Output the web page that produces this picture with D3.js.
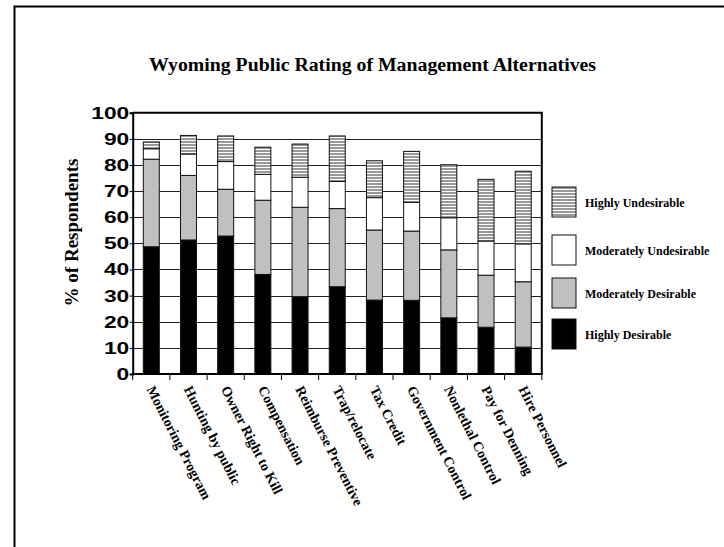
<!DOCTYPE html>
<html>
<head>
<meta charset="utf-8">
<script src="https://cdn.jsdelivr.net/npm/d3@7"></script>
<style>
  html, body { margin: 0; padding: 0; background: #fff; }
  svg { display: block; }
</style>
</head>
<body>
<svg id="chart" width="724" height="547"></svg>
<script>
const categories = ["Monitoring Program", "Hunting by public", "Owner Right to Kill", "Compensation",
  "Reimburse Preventive", "Trap/relocate", "Tax Credit", "Government Control",
  "Nonlethal Control", "Pay for Denning", "Hire Personnel"];
const seriesNames = ["Highly Desirable", "Moderately Desirable", "Moderately Undesirable", "Highly Undesirable"];
const highlyDesirable      = [48.7, 51.3, 52.8, 38.1, 29.6, 33.4, 28.3, 28.2, 21.5, 17.9, 10.3];
const moderatelyDesirable  = [33.5, 24.7, 17.9, 28.4, 34.2, 29.9, 26.8, 26.5, 26.0, 19.9, 25.0];
const moderatelyUndesirable= [ 4.0,  8.2, 10.6,  9.9, 11.5, 10.4, 12.4, 11.0, 12.3, 13.1, 14.5];
const highlyUndesirable    = [ 2.6,  7.1,  9.8, 10.4, 12.7, 17.4, 14.1, 19.5, 20.3, 23.6, 27.8];
const yTickValues = [0, 10, 20, 30, 40, 50, 60, 70, 80, 90, 100];
const titleText = "Wyoming Public Rating of Management Alternatives";
const yAxisTitle = "% of Respondents";

const svg = d3.select("#chart");

// outer frame (partially visible)
svg.append("path").attr("d", "M14.5,560 V6.5 H740").attr("fill", "none")
  .attr("stroke", "#000").attr("stroke-width", 2);

// pattern for highly undesirable
const defs = svg.append("defs");
const pat = defs.append("pattern").attr("id", "hatch").attr("patternUnits", "userSpaceOnUse")
  .attr("width", 8).attr("height", 3);
pat.append("rect").attr("width", 8).attr("height", 3).attr("fill", "#fff");
pat.append("rect").attr("width", 8).attr("height", 2).attr("fill", "#999");

const fills = {
  "Highly Desirable": "#000",
  "Moderately Desirable": "#c0c0c0",
  "Moderately Undesirable": "#fff",
  "Highly Undesirable": "url(#hatch)"
};

const plotLeft = 132.7, plotRight = 541.8, plotTop = 112.7, plotBottom = 374;
const y = d3.scaleLinear().domain([0, 100]).range([plotBottom, plotTop]);
const xb = d3.scaleBand().domain(categories).range([plotLeft, plotRight]).padding(0);
const x = d3.scaleBand().domain(categories).range([plotLeft, plotRight]).paddingInner(0.57).paddingOuter(0.285);

// gridlines
svg.append("g").selectAll("line").data(yTickValues.filter(v => v > 0 && v < 100)).join("line")
  .attr("x1", plotLeft).attr("x2", plotRight)
  .attr("y1", d => Math.round(y(d)) + 0.5).attr("y2", d => Math.round(y(d)) + 0.5)
  .attr("stroke", "#222").attr("stroke-width", 1);

// stacked bars
const table = categories.map((c, i) => ({
  cat: c,
  "Highly Desirable": highlyDesirable[i],
  "Moderately Desirable": moderatelyDesirable[i],
  "Moderately Undesirable": moderatelyUndesirable[i],
  "Highly Undesirable": highlyUndesirable[i]
}));
const stacked = d3.stack().keys(seriesNames)(table);
svg.append("g").selectAll("g").data(stacked).join("g")
  .attr("fill", d => fills[d.key])
  .selectAll("rect").data(d => d).join("rect")
  .attr("x", d => x(d.data.cat))
  .attr("width", x.bandwidth())
  .attr("y", d => y(d[1]))
  .attr("height", d => y(d[0]) - y(d[1]))
  .attr("stroke", "#111").attr("stroke-width", 1);

// plot border: top & right
svg.append("line").attr("x1", plotLeft).attr("x2", plotRight + 1).attr("y1", plotTop).attr("y2", plotTop)
  .attr("stroke", "#000").attr("stroke-width", 2);
svg.append("line").attr("x1", plotRight).attr("x2", plotRight).attr("y1", plotTop).attr("y2", plotBottom)
  .attr("stroke", "#000").attr("stroke-width", 2);

// y axis
const yAxis = svg.append("g").attr("transform", `translate(${plotLeft},0)`)
  .call(d3.axisLeft(y).tickValues(yTickValues).tickSize(3).tickPadding(1));
yAxis.select(".domain").attr("stroke", "#000").attr("stroke-width", 2);
yAxis.selectAll(".tick line").attr("stroke", "#000");
yAxis.selectAll(".tick text")
  .attr("x", 0)
  .attr("transform", "translate(-3.5,0) scale(1.34,1)")
  .attr("font-family", "Liberation Sans, Arial, sans-serif")
  .attr("font-weight", "bold").attr("font-size", 17).attr("fill", "#000");

// x axis
const xAxisG = svg.append("g").attr("transform", `translate(0,${plotBottom})`);
xAxisG.append("line").attr("x1", plotLeft - 1).attr("x2", plotRight + 1).attr("y1", 0).attr("y2", 0)
  .attr("stroke", "#000").attr("stroke-width", 2);
xAxisG.selectAll("line.tk").data(categories.concat(["__end"])).join("line").attr("class", "tk")
  .attr("x1", d => d === "__end" ? plotRight : xb(d)).attr("x2", d => d === "__end" ? plotRight : xb(d))
  .attr("y1", 0).attr("y2", 6).attr("stroke", "#000").attr("stroke-width", 1);
xAxisG.selectAll("text").data(categories).join("text")
  .attr("transform", d => `translate(${xb(d) + xb.bandwidth() / 2 - 5},${15}) rotate(63)`)
  .attr("font-family", "Liberation Serif, Times New Roman, serif")
  .attr("font-weight", "bold").attr("font-size", 14).attr("fill", "#000")
  .text(d => d);

// title
svg.append("text").attr("x", 372.5).attr("y", 71).attr("text-anchor", "middle")
  .attr("font-family", "Liberation Serif, Times New Roman, serif")
  .attr("font-weight", "bold").attr("font-size", 19.8).text(titleText);

// y axis title
svg.append("text").attr("transform", "translate(78,232.5) rotate(-90)").attr("text-anchor", "middle")
  .attr("font-family", "Liberation Serif, Times New Roman, serif")
  .attr("font-weight", "bold").attr("font-size", 19).text(yAxisTitle);

// legend
const legendOrder = ["Highly Undesirable", "Moderately Undesirable", "Moderately Desirable", "Highly Desirable"];
const legendTop = [187, 235, 278, 319];
const lg = svg.append("g").selectAll("g").data(legendOrder).join("g")
  .attr("transform", (d, i) => `translate(552,${legendTop[i]})`);
lg.append("rect").attr("width", 24).attr("height", 30).attr("fill", d => fills[d])
  .attr("stroke", "#111").attr("stroke-width", 1);
lg.append("text").attr("x", 33).attr("y", 19.5)
  .attr("font-family", "Liberation Serif, Times New Roman, serif")
  .attr("font-weight", "bold").attr("font-size", 12).text(d => d);
</script>
</body>
</html>
